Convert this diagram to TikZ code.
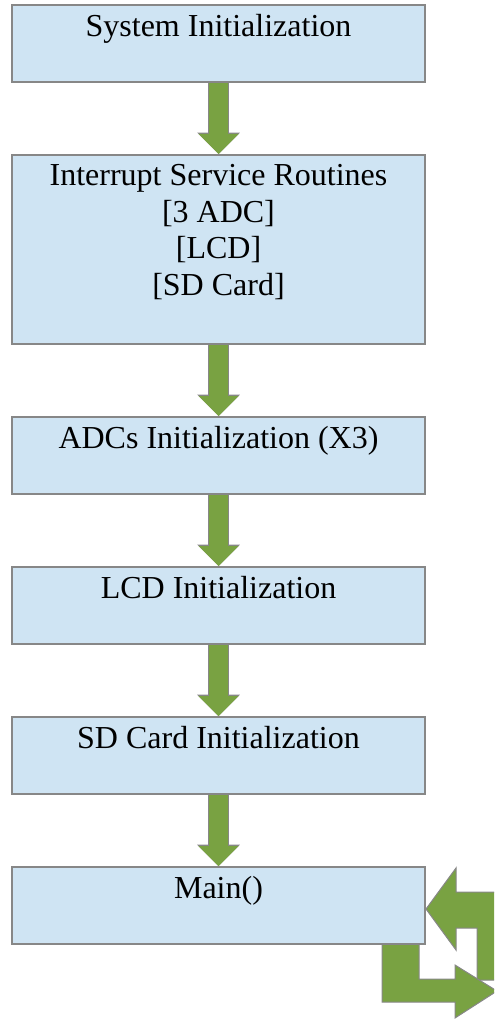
\documentclass[tikz,border=0pt]{standalone}
\usepackage{fontspec}
\setmainfont{Liberation Serif}
\usetikzlibrary{arrows.meta}
\definecolor{boxblue}{RGB}{207,228,243}
\definecolor{flowgreen}{RGB}{121,162,66}
\definecolor{edgegray}{RGB}{135,135,135}
\tikzset{
  box/.style={draw=edgegray, line width=1.5pt, fill=boxblue, minimum width=309.75pt, minimum height=57.75pt, inner sep=0pt},
  boxtext/.style={anchor=north, align=center, inner xsep=0pt, inner ysep=7.5pt, font=\fontsize{24}{27.5}\selectfont},
  flow/.style={draw=flowgreen, line width=14.25pt, -{Triangle[width=30pt,length=15pt,line width=0pt]},
    preaction={draw=edgegray, line width=15.75pt, -{Triangle[width=32pt,length=16pt,line width=0pt]}}},
  loop/.style={fill=flowgreen, draw=edgegray, line width=0.75pt, line join=miter}
}
\begin{document}
\begin{tikzpicture}[x=0.75pt,y=-0.75pt]
\useasboundingbox (0,0) rectangle (494,1019);
\clip (0,0) rectangle (494,1019);
% loop arrows behind Main()
\draw[loop] (426,909) -- (456,868) -- (456,892) -- (513,892) -- (513,980) -- (477,980) -- (477,928) -- (456,928) -- (456,950) -- cycle;
\draw[loop] (382,940) -- (419,940) -- (419,979) -- (455,979) -- (455,965) -- (497,991) -- (455,1018) -- (455,1002) -- (382,1002) -- cycle;
% boxes
\node[box] (sys) at (218.5,43.5) {};
\node[box, minimum height=141.75pt] (isr) at (218.5,249.5) {};
\node[box] (adc) at (218.5,455.5) {};
\node[box] (lcd) at (218.5,605.5) {};
\node[box] (sd) at (218.5,755.5) {};
\node[box] (main) at (218.5,905.5) {};
\node[boxtext] (systxt) at (sys.north) {System Initialization};
\node[boxtext] (isrtxt) at (isr.north) {Interrupt Service Routines\\\relax[3 ADC]\\\relax[LCD]\\\relax[SD Card]};
\node[boxtext] (adctxt) at (adc.north) {ADCs Initialization (X3)};
\node[boxtext] (lcdtxt) at (lcd.north) {LCD Initialization};
\node[boxtext] (sdtxt) at (sd.north) {SD Card Initialization};
\node[boxtext] (maintxt) at (main.north) {Main()};
% arrows
\draw[flow] (sys.south) -- (isr.north);
\draw[flow] (isr.south) -- (adc.north);
\draw[flow] (adc.south) -- (lcd.north);
\draw[flow] (lcd.south) -- (sd.north);
\draw[flow] (sd.south) -- (main.north);
\end{tikzpicture}
\end{document}
